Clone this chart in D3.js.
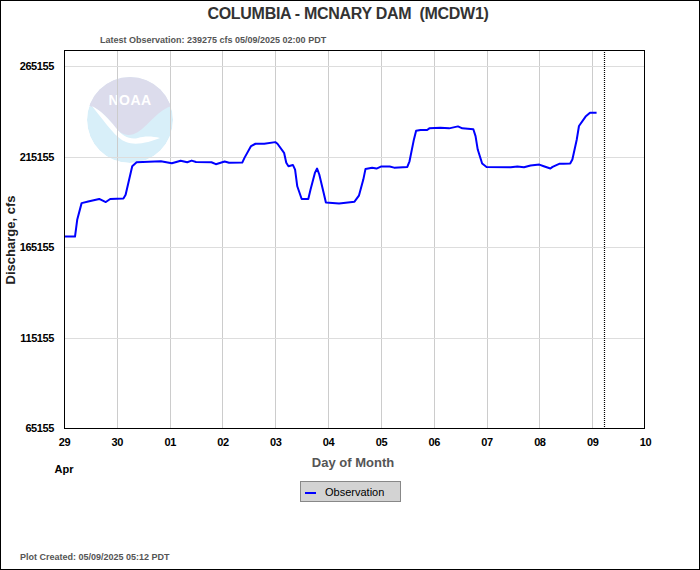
<!DOCTYPE html>
<html>
<head>
<meta charset="utf-8">
<script src="https://cdn.jsdelivr.net/npm/d3@7/dist/d3.min.js"></script>
<style>
  html, body { margin: 0; padding: 0; background: #fff; }
  svg { display: block; }
  text { white-space: pre; }
</style>
</head>
<body>
<script>
// ---- Data ----
const startTime = "2025-04-29T00:00";            // x origin (PDT, treated as UTC for layout)
const endTime = "2025-05-10T00:00";
const plotCreated = "2025-05-09T05:12";
// hours since 2025-04-29 00:00 PDT
const obsHours = [0,5,6,8,11,16,19,21,27,28,31,33,44,49,53,56,58,60,67,69,73,75,81,82,85,87,91,96,97,100,101,102,104,105,106,108,111,112,114,115,116,118,119,125,132,134,136,137,140,142,144,148,150,156,157,159,160,162,165,166,171,175,179,181,186,187,188,190,192,203,206,209,212,216,218,221,222,225,227,230,231,233,234,237,239,242];
// discharge, cfs
const obsValues = [170900,170900,180200,189400,190300,191700,190000,191700,192000,194000,209800,212000,212500,211400,212800,212000,212900,212100,212000,210900,212400,211700,211800,214400,220900,222200,222200,223100,222200,217200,211700,209800,210500,207900,198700,191700,191700,196800,206100,208500,205200,195000,189800,189200,190200,193500,202400,208300,208900,208500,209600,209600,209000,209400,212500,224600,229400,229800,229800,230700,231100,230700,231800,230700,230200,226400,219000,211300,209400,209200,209600,209200,210200,210700,209800,208500,209400,211100,211100,211300,213500,224600,232000,237200,239275,239275];
const yTicks = [65155,115155,165155,215155,265155];
const xTickLabels = ["29","30","01","02","03","04","05","06","07","08","09","10"];
const monthLabel = "Apr";
const titleText = "COLUMBIA - MCNARY DAM  (MCDW1)";
const latestText = "Latest Observation: 239275 cfs 05/09/2025 02:00 PDT";
const createdText = "Plot Created: 05/09/2025 05:12 PDT";
const yLabel = "Discharge, cfs";
const xLabel = "Day of Month";
const legendLabel = "Observation";

// ---- Layout ----
const W = 700, H = 570;
const m = {left: 64, right: 645, top: 50, bottom: 428};
const parse = d3.utcParse("%Y-%m-%dT%H:%M");
const t0 = parse(startTime), t1 = parse(endTime);

const x = d3.scaleUtc().domain([t0, t1]).range([m.left, m.right]);
const y = d3.scaleLinear().domain([65155, 274000]).range([m.bottom, m.top]);

const data = obsHours.map((h, i) => ({t: d3.utcMinute.offset(t0, Math.round(h * 60)), v: obsValues[i]}));
const dayTicks = d3.utcDay.range(t0, d3.utcDay.offset(t1, 1));

const svg = d3.select("body").append("svg").attr("width", W).attr("height", H);
const FONT = "'Liberation Sans', Arial, sans-serif";

svg.append("rect").attr("x", 0.5).attr("y", 0.5).attr("width", W - 1).attr("height", H - 1)
  .attr("fill", "#fff").attr("stroke", "#000");

// NOAA watermark logo
const logo = svg.append("g").attr("transform", "translate(130,120)");
logo.append("clipPath").attr("id", "lc").append("circle").attr("r", 43);
const lg = logo.append("g").attr("clip-path", "url(#lc)");
lg.append("circle").attr("r", 43).attr("fill", "#d8eff9");
lg.append("path").attr("d", "M-50,-60 L50,-60 L50,-16 C30,-14 22,2 8,12 C-2,18 -10,14 -16,6 C-24,-6 -34,-12 -40,-14 L-50,-14 Z")
  .attr("fill", "#dcdcec");
lg.append("path").attr("d", "M-38,-14 C-30,-10 -22,-2 -14,8 C-8,16 0,20 8,18 C14,16 22,16 30,18 C20,22 6,26 -4,22 C-14,18 -22,6 -38,-14 Z")
  .attr("fill", "#fff");
logo.append("text").attr("x", 0).attr("y", -15).attr("text-anchor", "middle")
  .attr("font-family", FONT).attr("font-weight", "bold").attr("font-size", 14)
  .attr("fill", "#fff").attr("letter-spacing", 0.5).text("NOAA");

// grid
svg.append("g").selectAll("line").data(dayTicks.slice(1, -1)).join("line")
  .attr("x1", d => Math.round(x(d)) + 0.5).attr("x2", d => Math.round(x(d)) + 0.5)
  .attr("y1", m.top).attr("y2", m.bottom).attr("stroke", "#cccccc");
svg.append("g").selectAll("line").data(yTicks).join("line")
  .attr("x1", m.left).attr("x2", m.right)
  .attr("y1", d => Math.round(y(d)) + 0.5).attr("y2", d => Math.round(y(d)) + 0.5)
  .attr("stroke", "#dddddd");

// plot created marker
const pc = parse(plotCreated);
svg.append("line").attr("x1", Math.round(x(pc)) + 0.5).attr("x2", Math.round(x(pc)) + 0.5)
  .attr("y1", m.top).attr("y2", m.bottom).attr("stroke", "#000").attr("stroke-width", 1.2)
  .attr("stroke-dasharray", "1,1");

// line
svg.append("path").datum(data)
  .attr("d", d3.line().x(d => x(d.t)).y(d => y(d.v)))
  .attr("fill", "none").attr("stroke", "#0000ff").attr("stroke-width", 2)
  .attr("stroke-linejoin", "round");

// frame
svg.append("rect").attr("x", m.left + 0.5).attr("y", m.top + 0.5)
  .attr("width", m.right - m.left - 1).attr("height", m.bottom - m.top)
  .attr("fill", "none").attr("stroke", "#000");

// axes (via d3 axis, styled)
const yAxis = d3.axisLeft(y).tickValues(yTicks).tickSize(0).tickPadding(10).tickFormat(d3.format("d"));
const gy = svg.append("g").attr("transform", `translate(${m.left},0)`).call(yAxis);
gy.select(".domain").remove();
gy.selectAll("text").attr("font-family", FONT).attr("font-weight", "bold").attr("font-size", 11)
  .attr("fill", "#000").attr("letter-spacing", -0.4);

const xAxis = d3.axisBottom(x).tickValues(dayTicks).tickSize(0).tickPadding(10)
  .tickFormat((d, i) => xTickLabels[i]);
const gx = svg.append("g").attr("transform", `translate(0,${m.bottom})`).call(xAxis);
gx.select(".domain").remove();
gx.selectAll("text").attr("font-family", FONT).attr("font-weight", "bold").attr("font-size", 11)
  .attr("fill", "#000").attr("letter-spacing", -0.4);

svg.append("text").attr("x", x(t0)).attr("y", 473).attr("text-anchor", "middle")
  .attr("font-family", FONT).attr("font-weight", "bold").attr("font-size", 11).text(monthLabel);

// titles
svg.append("text").attr("x", 348).attr("y", 19).attr("text-anchor", "middle")
  .attr("font-family", FONT).attr("font-weight", "bold").attr("font-size", 16)
  .attr("fill", "#333").attr("letter-spacing", -0.3).text(titleText);
svg.append("text").attr("x", 100).attr("y", 43)
  .attr("font-family", FONT).attr("font-weight", "bold").attr("font-size", 9)
  .attr("fill", "#555").text(latestText);
svg.append("text").attr("x", 353).attr("y", 467).attr("text-anchor", "middle")
  .attr("font-family", FONT).attr("font-weight", "bold").attr("font-size", 13)
  .attr("fill", "#555").text(xLabel);
svg.append("text").attr("transform", "translate(15,240) rotate(-90)").attr("text-anchor", "middle")
  .attr("font-family", FONT).attr("font-weight", "bold").attr("font-size", 13)
  .attr("fill", "#222").text(yLabel);
svg.append("text").attr("x", 20).attr("y", 560)
  .attr("font-family", FONT).attr("font-weight", "bold").attr("font-size", 9)
  .attr("fill", "#555").text(createdText);

// legend
const leg = svg.append("g").attr("transform", "translate(300,481)");
leg.append("rect").attr("x", 0.5).attr("y", 0.5).attr("width", 100).attr("height", 20)
  .attr("fill", "#d3d3d3").attr("stroke", "#888");
leg.append("line").attr("x1", 5).attr("x2", 16).attr("y1", 12).attr("y2", 12)
  .attr("stroke", "#0000ff").attr("stroke-width", 2);
leg.append("text").attr("x", 25).attr("y", 14.5)
  .attr("font-family", FONT).attr("font-size", 11).attr("fill", "#000").text(legendLabel);
</script>
</body>
</html>
